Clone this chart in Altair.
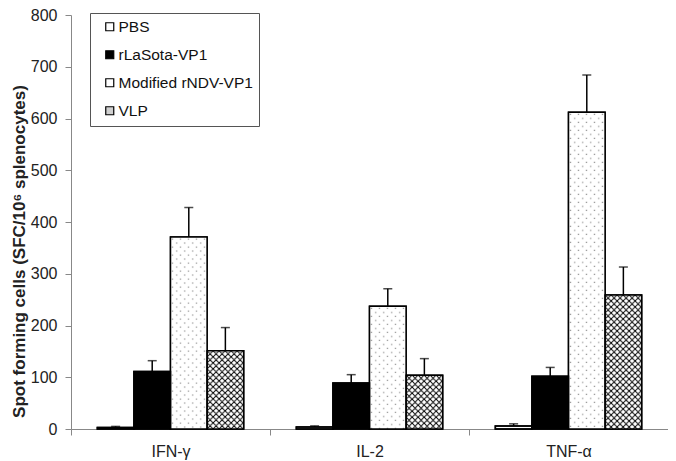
import altair as alt
import pandas as pd
from urllib.parse import quote

# ---- data ----
cytokines = ["IFN-γ", "IL-2", "TNF-α"]
groups = ["PBS", "rLaSota-VP1", "Modified rNDV-VP1", "VLP"]
pbs_mean = [3, 4, 6]
pbs_err = [2, 2, 4]
lasota_mean = [111, 89, 102]
lasota_err = [21, 16, 17]
modified_mean = [371, 237, 612]
modified_err = [57, 34, 72]
vlp_mean = [151, 104, 259]
vlp_err = [45, 32, 54]
y_ticks = [0, 100, 200, 300, 400, 500, 600, 700, 800]

means = [pbs_mean, lasota_mean, modified_mean, vlp_mean]
errs = [pbs_err, lasota_err, modified_err, vlp_err]
rows = []
for g, m_list, e_list in zip(groups, means, errs):
    for c, m, e in zip(cytokines, m_list, e_list):
        rows.append({"cytokine": c, "group": g, "mean": m, "err": e})
df = pd.DataFrame(rows)

FONT = "Liberation Sans"

dots_svg = ("<svg xmlns='http://www.w3.org/2000/svg' width='100%' height='100%'>"
            "<defs><pattern id='p' width='8' height='8' patternUnits='userSpaceOnUse'>"
            "<rect width='8' height='8' fill='white'/>"
            "<rect x='1.5' y='1.5' width='1.2' height='1.2' fill='#8a8a8a'/>"
            "<rect x='5.5' y='5.5' width='1.2' height='1.2' fill='#8a8a8a'/>"
            "</pattern></defs><rect width='100%' height='100%' fill='url(#p)'/></svg>")
hatch_svg = ("<svg xmlns='http://www.w3.org/2000/svg' width='100%' height='100%'>"
             "<defs><pattern id='h' width='6' height='6' patternUnits='userSpaceOnUse'>"
             "<rect width='6' height='6' fill='white'/>"
             "<path d='M0,0L6,6M6,0L0,6M-1,5L1,7M5,-1L7,1M-1,1L1,-1M5,7L7,5' stroke='black' stroke-width='1'/>"
             "</pattern></defs><rect width='100%' height='100%' fill='url(#h)'/></svg>")
dots_url = "data:image/svg+xml;charset=utf-8," + quote(dots_svg)
hatch_url = "data:image/svg+xml;charset=utf-8," + quote(hatch_svg)

x_enc = alt.X("cytokine:N", sort=cytokines,
              scale=alt.Scale(paddingInner=0, paddingOuter=0),
              axis=alt.Axis(title=None, labelAngle=0, tickBand="extent",
                            labelFont=FONT, labelFontSize=16, labelColor="#222",
                            labelPadding=8, tickSize=6, tickColor="#888",
                            domainColor="#888", grid=False))
xo_enc = alt.XOffset("group:N", sort=groups,
                     scale=alt.Scale(paddingInner=0, paddingOuter=0.72))
y_enc = alt.Y("mean:Q", scale=alt.Scale(domain=[0, 800], nice=False),
              axis=alt.Axis(title="Spot forming cells (SFC/10⁶ splenocytes)",
                            values=y_ticks, grid=False,
                            labelFont=FONT, labelFontSize=16, labelColor="#222",
                            labelPadding=8, tickSize=6, tickColor="#888",
                            domainColor="#888",
                            titleFont=FONT, titleFontSize=17, titleFontWeight="bold",
                            titleColor="#222", titlePadding=2, titleY=236))

color_scale = alt.Scale(domain=groups, range=["white", "black", "white", "#d0d0d0"])

base = alt.Chart(df)

bars = base.mark_bar(stroke="black", strokeWidth=1.5).encode(
    x=x_enc, xOffset=xo_enc, y=y_enc,
    color=alt.Color("group:N", scale=color_scale, sort=groups,
                    legend=alt.Legend(title=None, orient="none", legendX=19, legendY=-2,
                                      labelFont=FONT, labelFontSize=15.5, labelColor="#111",
                                      symbolType="square", symbolSize=64,
                                      symbolStrokeColor="black", symbolStrokeWidth=1.2,
                                      symbolOffset=6, labelOffset=1, rowPadding=11,
                                      padding=6, strokeColor="#555", fillColor="white")),
)

dots = base.transform_filter(alt.datum.group == "Modified rNDV-VP1").mark_image(
    url=dots_url, aspect=False).encode(
    x=x_enc, xOffset=xo_enc, y=y_enc, y2=alt.datum(0))

hatch = base.transform_filter(alt.datum.group == "VLP").mark_image(
    url=hatch_url, aspect=False).encode(
    x=x_enc, xOffset=xo_enc, y=y_enc, y2=alt.datum(0))

outline = base.mark_bar(stroke="black", strokeWidth=1.5, fillOpacity=0).encode(
    x=x_enc, xOffset=xo_enc, y=y_enc)

err = base.transform_calculate(top="datum.mean + datum.err")

err_rule = err.mark_rule(color="black", strokeWidth=1.5).encode(
    x=x_enc, xOffset=xo_enc, y=y_enc, y2="top:Q")

err_cap = err.mark_tick(color="black", thickness=1.5, size=9).encode(
    x=x_enc, xOffset=xo_enc, y=alt.Y("top:Q"))

chart = alt.layer(bars, dots, hatch, outline, err_rule, err_cap).properties(
    width=597, height=414,
    autosize=alt.AutoSizeParams(type="none"),
    padding={"left": 63, "top": 7, "right": 0, "bottom": 32},
    background="white",
).configure_view(stroke=None)

chart.save("out.html", embed_options={"renderer": "svg", "actions": False})
